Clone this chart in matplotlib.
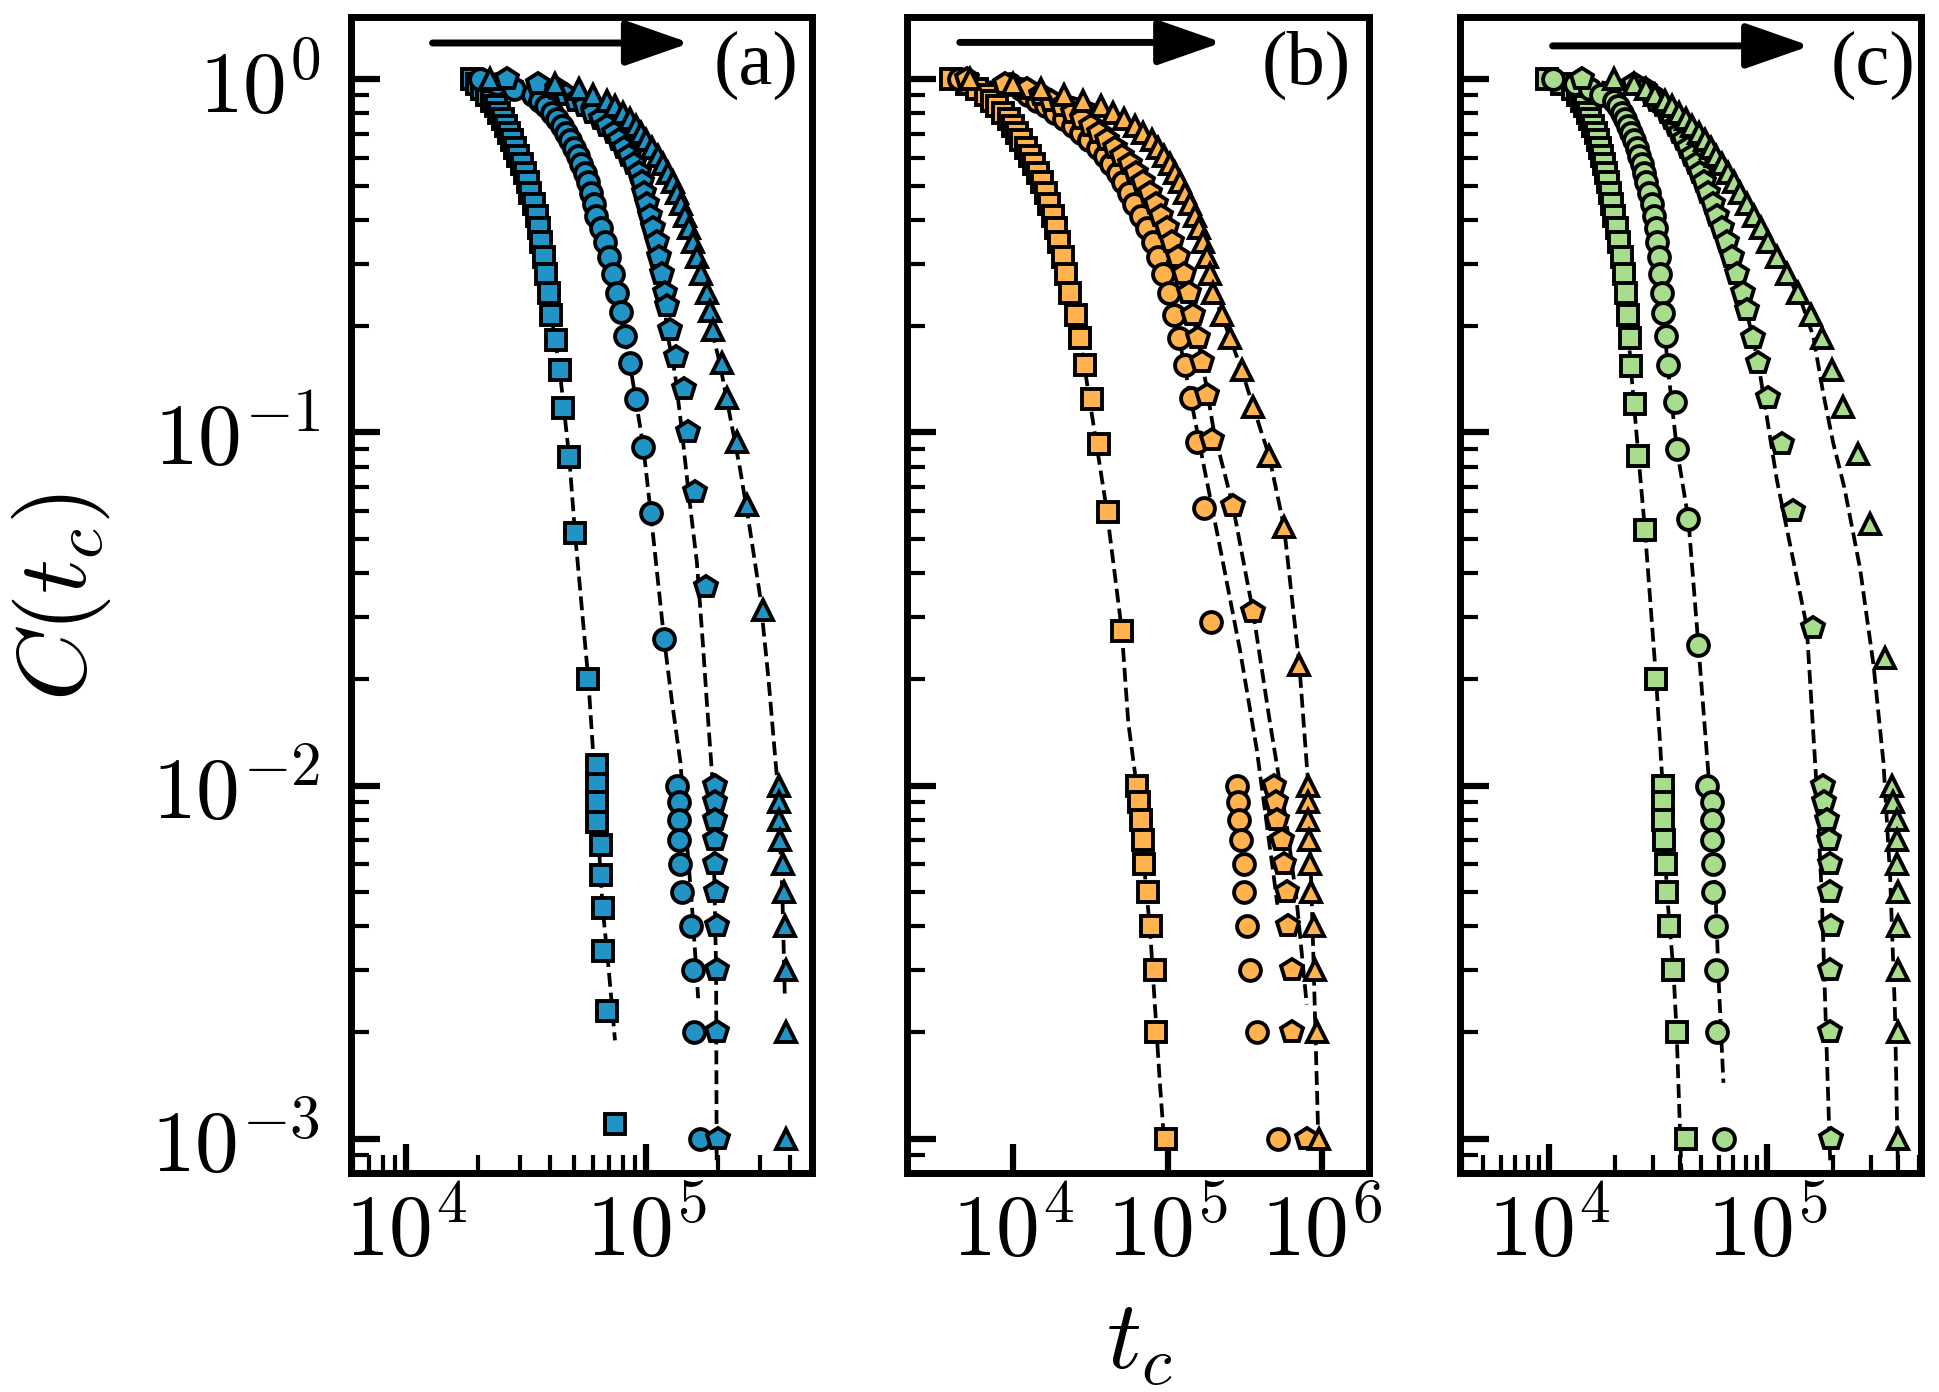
import numpy as np
import matplotlib
matplotlib.use('Agg')
import matplotlib.pyplot as plt
from matplotlib.ticker import LogLocator, NullLocator, FuncFormatter, NullFormatter

plt.rcParams['mathtext.fontset'] = 'cm'
plt.rcParams['font.family'] = ['DejaVu Sans']

# ---------------- shared C(t_c) levels ----------------
c_upper = [1.0, 0.967, 0.935, 0.902, 0.869, 0.837, 0.804, 0.771, 0.738, 0.706, 0.673, 0.640,
           0.608, 0.575, 0.542, 0.510, 0.477, 0.444, 0.411, 0.379, 0.346, 0.313, 0.281, 0.248]
c_tail = [0.010, 0.009, 0.008, 0.007, 0.006, 0.005, 0.004, 0.003, 0.002, 0.001]

# ---------------- panel (a) ----------------
a_sq_t_up = [1.88e4, 1.97e4, 2.07e4, 2.17e4, 2.28e4, 2.37e4, 2.45e4, 2.53e4, 2.61e4, 2.69e4, 2.77e4, 2.86e4,
             2.94e4, 3.03e4, 3.12e4, 3.21e4, 3.30e4, 3.40e4, 3.50e4, 3.58e4, 3.66e4, 3.75e4, 3.84e4, 3.93e4]
a_sq_c_low = [0.215, 0.183, 0.150, 0.117, 0.085, 0.052, 0.020]
a_sq_t_low = [4.03e4, 4.22e4, 4.37e4, 4.52e4, 4.79e4, 5.06e4, 5.75e4]
a_sq_c_tail = [0.0114, 0.0101, 0.0090, 0.0079, 0.0068, 0.0056, 0.0045, 0.0034, 0.0023, 0.0011]
a_sq_t_tail = [6.23e4, 6.23e4, 6.25e4, 6.25e4, 6.47e4, 6.47e4, 6.60e4, 6.63e4, 6.90e4, 7.43e4]

a_ci_t_up = [2.03e4, 2.40e4, 2.82e4, 3.39e4, 3.61e4, 3.85e4, 4.07e4, 4.27e4, 4.48e4, 4.66e4, 4.83e4, 5.01e4,
             5.19e4, 5.37e4, 5.55e4, 5.72e4, 5.89e4, 6.05e4, 6.22e4, 6.50e4, 6.78e4, 7.02e4, 7.26e4, 7.55e4]
a_ci_c_low = [0.219, 0.187, 0.157, 0.124, 0.091, 0.059, 0.026]
a_ci_t_low = [7.85e4, 8.18e4, 8.57e4, 9.08e4, 9.75e4, 1.047e5, 1.189e5]
a_ci_t_tail = [1.350e5, 1.369e5, 1.377e5, 1.377e5, 1.390e5, 1.416e5, 1.535e5, 1.565e5, 1.580e5, 1.679e5]

a_pe_t_up = [2.63e4, 3.55e4, 4.25e4, 4.66e4, 5.12e4, 5.56e4, 6.01e4, 6.49e4, 6.90e4, 7.33e4, 7.73e4, 8.13e4,
             8.53e4, 8.91e4, 9.31e4, 9.66e4, 9.84e4, 1.012e5, 1.042e5, 1.074e5, 1.107e5, 1.138e5, 1.169e5, 1.202e5]
a_pe_c_low = [0.228, 0.195, 0.164, 0.1325, 0.1005, 0.068, 0.0364]
a_pe_t_low = [1.225e5, 1.26e5, 1.33e5, 1.44e5, 1.50e5, 1.60e5, 1.78e5]
a_pe_t_tail = [1.93e5, 1.94e5, 1.94e5, 1.94e5, 1.94e5, 1.95e5, 1.97e5, 1.98e5, 1.97e5, 2.00e5]

a_tr_t_up = [2.24e4, 4.17e4, 5.25e4, 6.00e4, 6.86e4, 7.45e4, 8.05e4, 8.61e4, 9.06e4, 9.51e4, 9.98e4, 1.059e5,
             1.117e5, 1.178e5, 1.239e5, 1.294e5, 1.349e5, 1.406e5, 1.455e5, 1.507e5, 1.567e5, 1.629e5, 1.702e5, 1.791e5]
a_tr_c_low = [0.220, 0.195, 0.157, 0.125, 0.094, 0.0623, 0.0314]
a_tr_t_low = [1.854e5, 1.905e5, 2.065e5, 2.18e5, 2.40e5, 2.64e5, 3.08e5]
a_tr_t_tail = [3.59e5, 3.59e5, 3.59e5, 3.61e5, 3.71e5, 3.76e5, 3.79e5, 3.82e5, 3.83e5, 3.85e5]

a_sq_fit_t = [1.88e4, 2.28e4, 2.77e4, 3.30e4, 3.75e4, 4.03e4, 4.37e4, 4.79e4, 5.06e4, 5.75e4, 6.0e4, 6.3e4, 6.6e4, 7.0e4, 7.43e4]
a_sq_fit_c = [1.0, 0.869, 0.673, 0.477, 0.313, 0.215, 0.150, 0.085, 0.052, 0.020, 0.0129, 0.0075, 0.0045, 0.0030, 0.0019]
a_ci_fit_t = [2.03e4, 3.39e4, 4.27e4, 5.01e4, 5.72e4, 6.50e4, 7.55e4, 8.57e4, 9.75e4, 1.047e5, 1.19e5, 1.28e5, 1.39e5, 1.55e5, 1.65e5]
a_ci_fit_c = [1.0, 0.902, 0.771, 0.640, 0.510, 0.379, 0.248, 0.157, 0.091, 0.059, 0.026, 0.0175, 0.0117, 0.0047, 0.0025]
a_pe_fit_t = [2.63e4, 3.55e4, 4.25e4, 5.56e4, 6.90e4, 8.13e4, 9.31e4, 1.012e5, 1.107e5, 1.19e5, 1.219e5, 1.32e5, 1.41e5,
              1.50e5, 1.63e5, 1.73e5, 1.79e5, 1.89e5, 1.96e5, 1.97e5]
a_pe_fit_c = [1.0, 0.967, 0.935, 0.837, 0.738, 0.640, 0.542, 0.444, 0.346, 0.250, 0.195, 0.147, 0.1017,
              0.0688, 0.0428, 0.0247, 0.0175, 0.0105, 0.003, 0.00087]
a_tr_fit_t = [2.24e4, 4.17e4, 6.0e4, 8.05e4, 9.98e4, 1.178e5, 1.349e5, 1.507e5, 1.702e5, 1.88e5, 2.03e5, 2.24e5, 2.47e5,
              2.71e5, 2.99e5, 3.24e5, 3.51e5, 3.70e5, 3.79e5]
a_tr_fit_c = [1.0, 0.967, 0.902, 0.804, 0.673, 0.575, 0.477, 0.379, 0.281, 0.195, 0.157, 0.111, 0.0783,
              0.0532, 0.0343, 0.020, 0.0106, 0.005, 0.0025]

# ---------------- panel (b) ----------------
b_sq_t_up = [3981, 5012, 5888, 6637, 7261, 7907, 8650, 9354, 9977, 1.062e4, 1.132e4, 1.205e4,
             1.279e4, 1.361e4, 1.452e4, 1.542e4, 1.626e4, 1.710e4, 1.803e4, 1.892e4, 1.995e4, 2.099e4, 2.213e4, 2.355e4]
b_sq_c_low = [0.215, 0.185, 0.155, 0.1245, 0.0925, 0.0596, 0.0274]
b_sq_t_low = [2.541e4, 2.723e4, 2.924e4, 3.258e4, 3.622e4, 4.140e4, 5.093e4]
b_sq_t_tail = [6.31e4, 6.54e4, 6.70e4, 6.97e4, 7.07e4, 7.51e4, 7.82e4, 8.30e4, 8.39e4, 9.77e4]

b_ci_t_up = [4467, 9550, 1.122e4, 1.259e4, 1.429e4, 1.633e4, 1.875e4, 2.153e4, 2.455e4, 2.767e4, 3.126e4, 3.532e4,
             3.917e4, 4.325e4, 4.775e4, 5.176e4, 5.598e4, 6.053e4, 6.714e4, 7.413e4, 8.017e4, 8.630e4, 9.397e4, 1.023e5]
b_ci_c_low = [0.215, 0.185, 0.155, 0.125, 0.094, 0.061, 0.029]
b_ci_t_low = [1.109e5, 1.189e5, 1.288e5, 1.413e5, 1.549e5, 1.722e5, 1.914e5]
b_ci_t_tail = [2.81e5, 2.87e5, 2.92e5, 2.99e5, 3.13e5, 3.14e5, 3.26e5, 3.42e5, 3.81e5, 5.21e5]

b_pe_t_up = [5012, 8913, 1.230e4, 1.514e4, 1.774e4, 2.080e4, 2.449e4, 2.805e4, 3.177e4, 3.581e4, 4.055e4, 4.539e4,
             5.070e4, 5.675e4, 6.281e4, 6.934e4, 7.674e4, 8.375e4, 9.120e4, 9.863e4, 1.067e5, 1.175e5, 1.285e5, 1.371e5]
b_pe_c_low = [0.215, 0.185, 0.158, 0.128, 0.095, 0.062, 0.031]
b_pe_t_low = [1.469e5, 1.578e5, 1.679e5, 1.811e5, 1.932e5, 2.642e5, 3.597e5]
b_pe_t_tail = [4.91e5, 5.04e5, 5.14e5, 5.49e5, 5.71e5, 5.97e5, 6.06e5, 6.37e5, 6.43e5, 7.96e5]

b_tr_t_up = [5248, 1.0e4, 1.514e4, 2.148e4, 2.858e4, 3.690e4, 4.446e4, 5.236e4, 6.138e4, 6.950e4, 7.907e4, 8.690e4,
             9.462e4, 1.033e5, 1.122e5, 1.208e5, 1.303e5, 1.406e5, 1.500e5, 1.596e5, 1.698e5, 1.791e5, 1.879e5, 1.977e5]
b_tr_c_low = [0.215, 0.185, 0.150, 0.118, 0.086, 0.054, 0.022]
b_tr_t_low = [2.239e5, 2.541e5, 3.020e5, 3.589e5, 4.539e5, 5.675e5, 7.129e5]
b_tr_t_tail = [8.15e5, 8.15e5, 8.15e5, 8.27e5, 8.36e5, 8.45e5, 8.88e5, 9.01e5, 9.33e5, 9.61e5]

b_sq_fit_t = [3981, 6637, 9354, 1.205e4, 1.542e4, 1.892e4, 2.355e4, 2.85e4, 4.04e4, 5.05e4, 5.57e4, 6.31e4, 7.71e4, 8.93e4, 9.48e4]
b_sq_fit_c = [1.0, 0.902, 0.771, 0.640, 0.510, 0.379, 0.248, 0.161, 0.0603, 0.0277, 0.0151, 0.010, 0.0039, 0.00143, 0.001]
b_ci_fit_t = [4467, 1.122e4, 1.875e4, 2.767e4, 3.917e4, 5.176e4, 6.714e4, 8.63e4, 1.023e5, 1.189e5, 1.413e5, 1.706e5,
              2.244e5, 2.944e5, 3.776e5, 4.84e5, 5.14e5]
b_ci_fit_c = [1.0, 0.935, 0.804, 0.706, 0.608, 0.510, 0.411, 0.313, 0.248, 0.185, 0.125, 0.0816,
              0.0446, 0.0242, 0.0127, 0.00565, 0.0046]
b_pe_fit_t = [5012, 1.23e4, 2.08e4, 3.177e4, 4.539e4, 6.281e4, 8.375e4, 1.067e5, 1.371e5, 1.679e5, 2.0e5, 2.642e5,
              3.597e5, 4.60e5, 5.92e5, 6.86e5, 7.96e5]
b_pe_fit_c = [1.0, 0.935, 0.837, 0.738, 0.640, 0.542, 0.444, 0.346, 0.248, 0.158, 0.10, 0.0623,
              0.0306, 0.0151, 0.0077, 0.0047, 0.0024]
b_tr_fit_t = [5248, 1.514e4, 2.858e4, 4.446e4, 6.138e4, 7.907e4, 9.462e4, 1.122e5, 1.303e5, 1.5e5, 1.698e5, 1.977e5,
              2.541e5, 3.02e5, 3.589e5, 4.539e5, 5.675e5, 7.129e5, 8.15e5, 8.79e5, 9.46e5]
b_tr_fit_c = [1.0, 0.935, 0.869, 0.804, 0.738, 0.673, 0.608, 0.542, 0.477, 0.411, 0.346, 0.248,
              0.185, 0.150, 0.118, 0.086, 0.054, 0.022, 0.010, 0.0033, 0.001]

# ---------------- panel (c) ----------------
c_sq_t_up = [9772, 1.148e4, 1.288e4, 1.365e4, 1.413e4, 1.459e4, 1.503e4, 1.549e4, 1.596e4, 1.641e4, 1.675e4, 1.710e4,
             1.746e4, 1.782e4, 1.824e4, 1.862e4, 1.905e4, 1.950e4, 1.995e4, 2.046e4, 2.099e4, 2.158e4, 2.208e4, 2.259e4]
c_sq_c_low = [0.215, 0.185, 0.154, 0.120, 0.086, 0.053, 0.020]
c_sq_t_low = [2.312e4, 2.355e4, 2.371e4, 2.477e4, 2.570e4, 2.754e4, 3.097e4]
c_sq_t_tail = [3.32e4, 3.32e4, 3.34e4, 3.38e4, 3.44e4, 3.47e4, 3.56e4, 3.72e4, 3.85e4, 4.24e4]

c_ci_t_up = [1.047e4, 1.318e4, 1.549e4, 1.738e4, 1.995e4, 2.080e4, 2.153e4, 2.228e4, 2.307e4, 2.382e4, 2.455e4, 2.529e4,
             2.600e4, 2.673e4, 2.735e4, 2.799e4, 2.877e4, 2.958e4, 3.034e4, 3.083e4, 3.141e4, 3.192e4, 3.243e4, 3.296e4]
c_ci_c_low = [0.218, 0.187, 0.155, 0.122, 0.090, 0.057, 0.025]
c_ci_t_low = [3.342e4, 3.443e4, 3.499e4, 3.784e4, 3.855e4, 4.355e4, 4.842e4]
c_ci_t_tail = [5.29e4, 5.57e4, 5.57e4, 5.57e4, 5.63e4, 5.67e4, 5.82e4, 5.82e4, 5.88e4, 6.35e4]

c_pe_t_up = [1.413e4, 2.455e4, 2.754e4, 2.965e4, 3.141e4, 3.327e4, 3.524e4, 3.681e4, 3.828e4, 3.981e4, 4.140e4, 4.325e4,
             4.508e4, 4.710e4, 4.909e4, 5.129e4, 5.370e4, 5.636e4, 5.916e4, 6.209e4, 6.546e4, 6.918e4, 7.295e4, 7.727e4]
c_pe_c_low = [0.222, 0.185, 0.157, 0.125, 0.093, 0.060, 0.028]
c_pe_t_low = [8.072e4, 8.610e4, 9.120e4, 1.014e5, 1.167e5, 1.318e5, 1.631e5]
c_pe_t_tail = [1.80e5, 1.82e5, 1.88e5, 1.93e5, 1.95e5, 1.95e5, 1.96e5, 1.95e5, 1.95e5, 1.97e5]

c_tr_t_up = [1.995e4, 2.455e4, 2.786e4, 3.076e4, 3.420e4, 3.681e4, 3.954e4, 4.246e4, 4.550e4, 4.864e4, 5.212e4, 5.534e4,
             5.848e4, 6.194e4, 6.607e4, 7.031e4, 7.499e4, 8.091e4, 8.730e4, 9.376e4, 1.009e5, 1.114e5, 1.236e5, 1.380e5]
c_tr_c_low = [0.215, 0.185, 0.150, 0.118, 0.087, 0.055, 0.023]
c_tr_t_low = [1.585e5, 1.778e5, 1.995e5, 2.239e5, 2.600e5, 2.951e5, 3.475e5]
c_tr_t_tail = [3.74e5, 3.77e5, 3.93e5, 3.93e5, 3.93e5, 3.97e5, 3.97e5, 3.97e5, 3.97e5, 3.97e5]

c_sq_fit_t = [9772, 1.288e4, 1.459e4, 1.641e4, 1.824e4, 1.995e4, 2.208e4, 2.371e4, 2.57e4, 2.754e4, 3.10e4, 3.32e4,
              3.47e4, 3.72e4, 3.85e4, 4.05e4]
c_sq_fit_c = [1.0, 0.935, 0.837, 0.706, 0.542, 0.411, 0.281, 0.154, 0.086, 0.053, 0.020, 0.010,
              0.005, 0.003, 0.002, 0.0008]
c_ci_fit_t = [1.047e4, 1.549e4, 1.995e4, 2.228e4, 2.455e4, 2.673e4, 2.877e4, 3.083e4, 3.243e4, 3.342e4, 3.499e4,
              3.855e4, 4.355e4, 4.842e4, 5.45e4, 5.8e4, 6.0e4, 6.31e4]
c_ci_fit_c = [1.0, 0.935, 0.869, 0.771, 0.673, 0.575, 0.477, 0.379, 0.281, 0.218, 0.155,
              0.090, 0.057, 0.025, 0.0098, 0.005, 0.0028, 0.00144]
c_pe_fit_t = [1.413e4, 2.754e4, 3.524e4, 4.14e4, 4.909e4, 5.636e4, 6.546e4, 7.727e4, 9.12e4, 1.108e5, 1.52e5,
              1.69e5, 1.78e5, 1.88e5, 1.95e5]
c_pe_fit_c = [1.0, 0.935, 0.804, 0.673, 0.542, 0.444, 0.346, 0.248, 0.157, 0.0736, 0.0283,
              0.0098, 0.005, 0.00173, 0.00085]
c_tr_fit_t = [1.995e4, 2.786e4, 3.954e4, 5.212e4, 6.194e4, 7.499e4, 8.73e4, 1.009e5, 1.236e5, 1.45e5, 1.63e5,
              1.81e5, 2.01e5, 2.26e5, 2.67e5, 3.08e5, 3.42e5, 3.67e5, 3.86e5, 3.98e5]
c_tr_fit_c = [1.0, 0.935, 0.804, 0.673, 0.575, 0.477, 0.411, 0.346, 0.281, 0.23, 0.187,
              0.129, 0.0935, 0.07, 0.0412, 0.0219, 0.0116, 0.0055, 0.00229, 0.00085]

panel_labels = ['(a)', '(b)', '(c)']
panel_colors = ['#2193c4', '#ffb24d', '#a9dd8e']
xlims = [(5.9e3, 4.92e5), (2.05e3, 2.0e6), (3.91e3, 5.06e5)]
ylim = (8.0e-4, 1.5)

# ---------------- assemble ----------------
def series(t_up, c_low, t_low, c_tl, t_tl):
    return (np.array(t_up + t_low + t_tl), np.array(c_upper + c_low + c_tl))

panels = [
    [series(a_sq_t_up, a_sq_c_low, a_sq_t_low, a_sq_c_tail, a_sq_t_tail),
     series(a_ci_t_up, a_ci_c_low, a_ci_t_low, c_tail, a_ci_t_tail),
     series(a_pe_t_up, a_pe_c_low, a_pe_t_low, c_tail, a_pe_t_tail),
     series(a_tr_t_up, a_tr_c_low, a_tr_t_low, c_tail, a_tr_t_tail)],
    [series(b_sq_t_up, b_sq_c_low, b_sq_t_low, c_tail, b_sq_t_tail),
     series(b_ci_t_up, b_ci_c_low, b_ci_t_low, c_tail, b_ci_t_tail),
     series(b_pe_t_up, b_pe_c_low, b_pe_t_low, c_tail, b_pe_t_tail),
     series(b_tr_t_up, b_tr_c_low, b_tr_t_low, c_tail, b_tr_t_tail)],
    [series(c_sq_t_up, c_sq_c_low, c_sq_t_low, c_tail, c_sq_t_tail),
     series(c_ci_t_up, c_ci_c_low, c_ci_t_low, c_tail, c_ci_t_tail),
     series(c_pe_t_up, c_pe_c_low, c_pe_t_low, c_tail, c_pe_t_tail),
     series(c_tr_t_up, c_tr_c_low, c_tr_t_low, c_tail, c_tr_t_tail)],
]
fits = [
    [(a_sq_fit_t, a_sq_fit_c), (a_ci_fit_t, a_ci_fit_c), (a_pe_fit_t, a_pe_fit_c), (a_tr_fit_t, a_tr_fit_c)],
    [(b_sq_fit_t, b_sq_fit_c), (b_ci_fit_t, b_ci_fit_c), (b_pe_fit_t, b_pe_fit_c), (b_tr_fit_t, b_tr_fit_c)],
    [(c_sq_fit_t, c_sq_fit_c), (c_ci_fit_t, c_ci_fit_c), (c_pe_fit_t, c_pe_fit_c), (c_tr_fit_t, c_tr_fit_c)],
]
markers = ['s', 'o', 'p', '^']
msizes = [14, 15, 16.5, 15]

ax_rects = [[0.1810, 0.1573, 0.2378, 0.8305],
            [0.4676, 0.1573, 0.2382, 0.8305],
            [0.7530, 0.1573, 0.2375, 0.8305]]
label_pos = [(0.878, 0.958), (0.866, 0.958), (0.896, 0.958)]
arrow_pos = [(0.177, 0.735, 0.9775), (0.115, 0.683, 0.978), (0.201, 0.760, 0.975)]

fig = plt.figure(figsize=(19.39, 13.92), dpi=100)
fmt = FuncFormatter(lambda v, p: r'$10^{%d}$' % int(round(np.log10(v))))

for i in range(3):
    ax = fig.add_axes(ax_rects[i])
    ax.set_xscale('log')
    ax.set_yscale('log')
    for (ft, fc) in fits[i]:
        ax.plot(ft, fc, ls='--', color='k', lw=2.7, zorder=2)
    for j, (t, c) in enumerate(panels[i]):
        ax.plot(t, c, ls='none', marker=markers[j], ms=msizes[j], mfc=panel_colors[i],
                mec='k', mew=2.8, zorder=3 + j)
    ax.set_xlim(*xlims[i])
    ax.set_ylim(*ylim)
    ax.xaxis.set_major_locator(LogLocator(base=10, numticks=10))
    ax.yaxis.set_major_locator(LogLocator(base=10, numticks=10))
    if i == 1:
        ax.xaxis.set_minor_locator(NullLocator())
    else:
        ax.xaxis.set_minor_locator(LogLocator(base=10, subs=np.arange(2, 10), numticks=20))
    ax.yaxis.set_minor_locator(LogLocator(base=10, subs=np.arange(2, 10), numticks=20))
    ax.xaxis.set_major_formatter(fmt)
    ax.yaxis.set_major_formatter(fmt)
    ax.xaxis.set_minor_formatter(NullFormatter())
    ax.yaxis.set_minor_formatter(NullFormatter())
    ax.tick_params(which='both', direction='in', top=False, right=False)
    ax.tick_params(which='major', length=21, width=4.5, labelsize=63)
    ax.tick_params(which='minor', length=13, width=3)
    ax.tick_params(axis='y', which='major', pad=22)
    ax.tick_params(axis='x', which='major', pad=12)
    if i > 0:
        ax.tick_params(axis='y', labelleft=False)
    for s in ax.spines.values():
        s.set_linewidth(5)
    ax.text(label_pos[i][0], label_pos[i][1], panel_labels[i], transform=ax.transAxes,
            ha='center', va='center', fontsize=55, family='Liberation Serif')
    x0, x1, ya = arrow_pos[i]
    ax.annotate('', xy=(x1, ya), xytext=(x0, ya), xycoords='axes fraction',
                arrowprops=dict(arrowstyle='-|>,head_length=1.2,head_width=0.42', lw=5, color='k',
                                mutation_scale=33, shrinkA=0, shrinkB=0))

fig.text(0.0316, 0.571, r'$C(t_c)$', rotation=90, ha='center', va='center', fontsize=70)
fig.text(0.5875, 0.036, r'$t_c$', ha='center', va='center', fontsize=70)

fig.savefig('out.png', dpi=100)
